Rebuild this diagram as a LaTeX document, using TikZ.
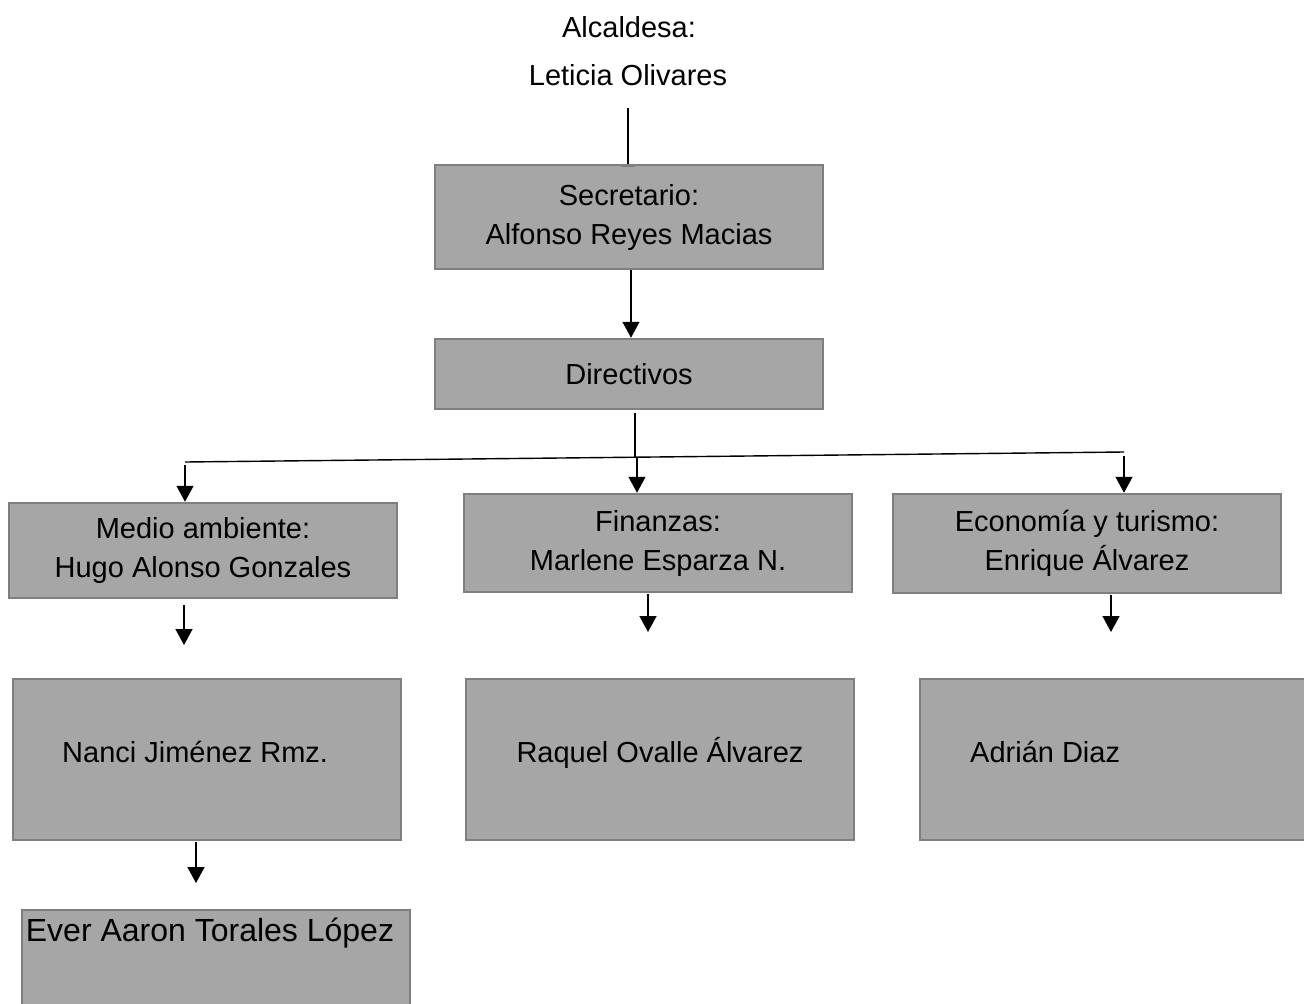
\documentclass[tikz,border=0pt]{standalone}
\usepackage{fontspec}
\setmainfont{Liberation Sans}
\usetikzlibrary{arrows.meta}
\definecolor{boxfill}{HTML}{A6A6A6}
\definecolor{boxline}{HTML}{7F7F7F}
\begin{document}
\begin{tikzpicture}[x=1pt,y=-1pt,
  box/.style={draw=boxline,fill=boxfill,line width=2.5pt,minimum width=388pt,inner sep=0pt,align=center,font=\fontsize{29}{39}\selectfont},
  lbl/.style={inner sep=0pt,font=\fontsize{29}{39}\selectfont},
  conn/.style={line width=1.4pt,black},
  arr/.style={conn,-{Triangle[width=17pt 0,length=16pt 0]}}]
\useasboundingbox (0,0) rectangle (1304,1004);
\clip (0,0) rectangle (1304,1004);
% titles
\node[lbl,anchor=base] (alc) at (629,37) {Alcaldesa:};
\node[lbl,anchor=base] (let) at (628,85) {Leticia Olivares};
% boxes
\node[box,minimum height=104pt] (sec) at (629,217) {Secretario:\\Alfonso Reyes Macias};
\node[box,minimum height=70pt] (dir) at (629,374) {Directivos};
\node[box,minimum height=95pt] (med) at (203,550.5) {Medio ambiente:\\Hugo Alonso Gonzales};
\node[box,minimum height=98pt] (fin) at (658,543) {Finanzas:\\Marlene Esparza N.};
\node[box,minimum height=99pt] (eco) at (1087,543.5) {Economía y turismo:\\Enrique Álvarez};
\node[box,minimum height=161pt] (nan) at (207,759.5) {};
\node[box,minimum height=161pt] (raq) at (660,759.5) {};
\node[box,minimum height=161pt] (adr) at (1114,759.5) {};
\node[box,minimum height=170pt] (eve) at (216,995) {};
% texts inside lower boxes
\node[lbl,anchor=base west] (nant) at (62,762) {Nanci Jiménez Rmz.};
\node[lbl,anchor=base] (raqt) at (660,762) {Raquel Ovalle Álvarez};
\node[lbl,anchor=base west] (adrt) at (970,762) {Adrián Diaz};
\node[lbl,anchor=base,font=\fontsize{32}{40}\selectfont] (evet) at (210,941) {Ever Aaron Torales López};
% connectors
\coordinate (t0) at (628,108);
\draw[conn] (t0) -- (t0 |- sec.north);
\draw[boxline,line width=2.5pt] ([xshift=-7pt,yshift=-1.5pt]t0 |- sec.north) -- ([xshift=7pt,yshift=-1.5pt]t0 |- sec.north);
\draw[arr] ([xshift=2pt]sec.south) -- ([xshift=2pt]dir.north);
\coordinate (d0) at (635,413);
\coordinate (j) at (635,457);
\draw[conn] (d0) -- (j);
\coordinate (hl) at (185,462);
\coordinate (hr) at (1124,452);
\draw[conn] (hl) -- (hr);
\coordinate (a1) at (185,465);
\coordinate (a2) at (637,457);
\coordinate (a3) at (1124,456);
\draw[arr] (a1) -- (a1 |- med.north);
\draw[arr] (a2) -- (a2 |- fin.north);
\draw[arr] (a3) -- (a3 |- eco.north);
\coordinate (b1) at (184,605);
\coordinate (b1e) at (184,645);
\coordinate (b2) at (648,594);
\coordinate (b2e) at (648,632);
\coordinate (b3) at (1111,595);
\coordinate (b3e) at (1111,632);
\coordinate (b4) at (196,842);
\coordinate (b4e) at (196,883);
\draw[arr] (b1) -- (b1e);
\draw[arr] (b2) -- (b2e);
\draw[arr] (b3) -- (b3e);
\draw[arr] (b4) -- (b4e);
\end{tikzpicture}
\end{document}
